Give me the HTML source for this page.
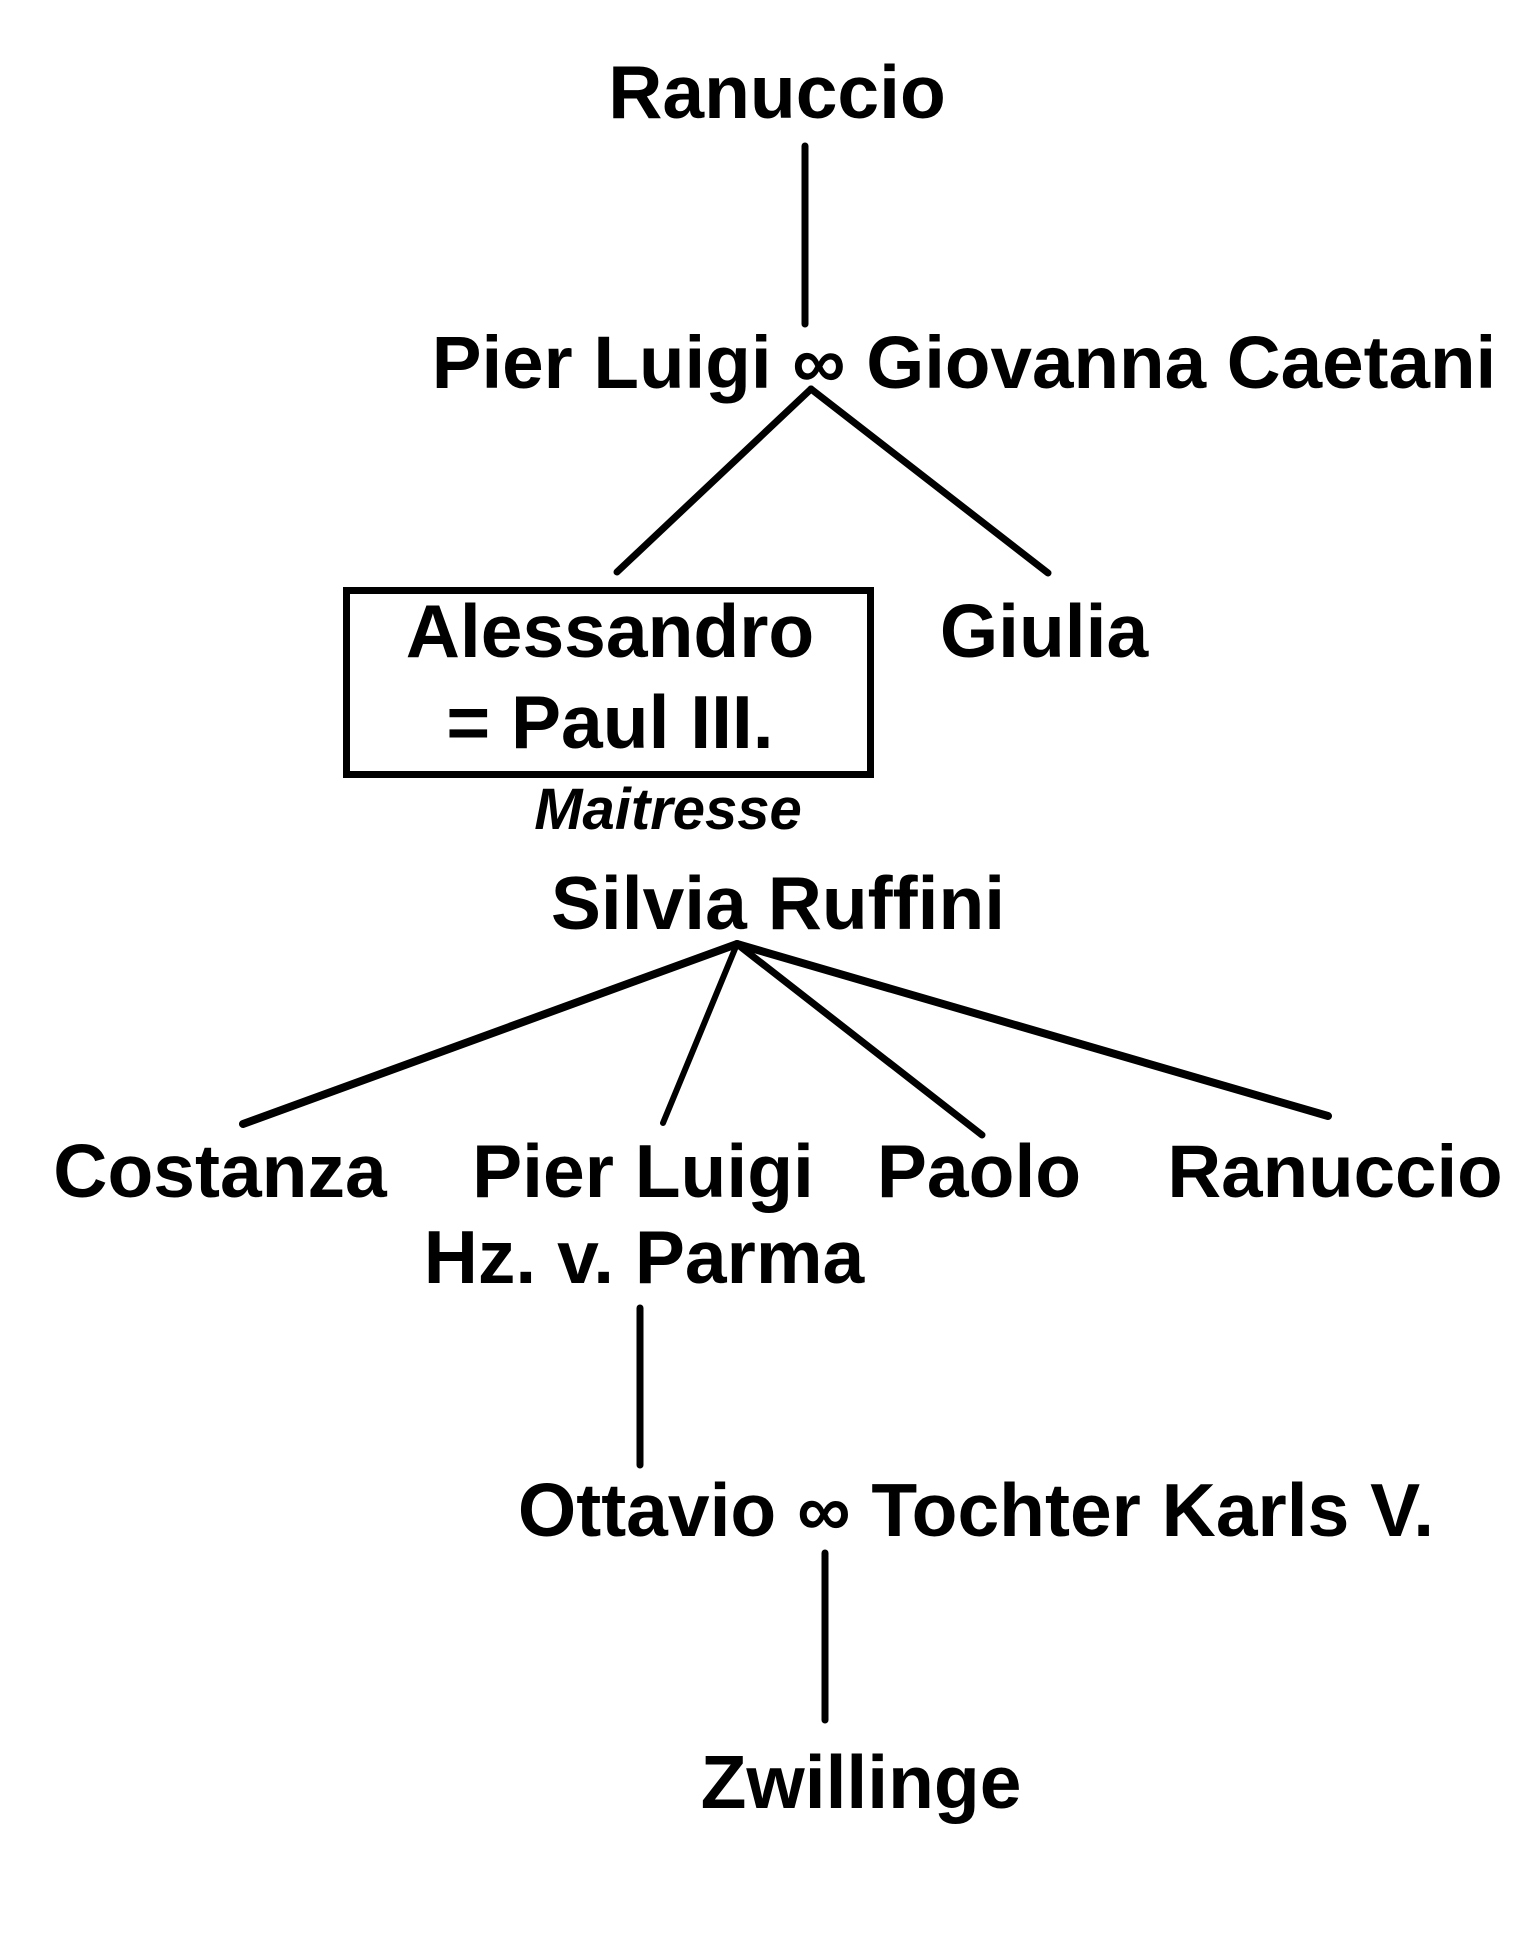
<!DOCTYPE html>
<html>
<head>
<meta charset="utf-8">
<style>
html,body{margin:0;padding:0;background:#fff;}
svg{display:block;}
text{font-family:"Liberation Sans",Arial,sans-serif;font-weight:bold;fill:#000;font-variant-ligatures:none;}
</style>
</head>
<body>
<svg width="1533" height="1937" viewBox="0 0 1533 1937" xmlns="http://www.w3.org/2000/svg">
<rect width="1533" height="1937" fill="#fff"/>
<g stroke="#000" stroke-linecap="round" fill="none">
  <line x1="805" y1="146" x2="805" y2="324" stroke-width="7"/>
  <line x1="811" y1="389" x2="617" y2="572" stroke-width="7"/>
  <line x1="811" y1="389" x2="1048" y2="573" stroke-width="7"/>
  <rect x="346.5" y="590.5" width="524" height="184" stroke-width="7" stroke-linecap="butt"/>
  <line x1="737" y1="944" x2="243" y2="1124" stroke-width="8"/>
  <line x1="737" y1="944" x2="663" y2="1123" stroke-width="6"/>
  <line x1="737" y1="944" x2="982" y2="1135" stroke-width="7"/>
  <line x1="737" y1="944" x2="1328" y2="1116" stroke-width="8"/>
  <line x1="640" y1="1308" x2="640" y2="1465" stroke-width="7"/>
  <line x1="825" y1="1553" x2="825" y2="1720" stroke-width="7"/>
</g>
<g font-size="75" text-anchor="middle">
  <text x="777" y="118">Ranuccio</text>
  <text x="964" y="388" font-size="74.6">Pier Luigi ∞ Giovanna Caetani</text>
  <text x="610" y="657">Alessandro</text>
  <text x="610" y="748">= Paul III.</text>
  <text x="1044" y="657">Giulia</text>
  <text x="778" y="929">Silvia Ruffini</text>
  <text x="220" y="1197">Costanza</text>
  <text x="643" y="1197">Pier Luigi</text>
  <text x="979" y="1197">Paolo</text>
  <text x="1335" y="1197" font-size="74.5">Ranuccio</text>
  <text x="644" y="1283">Hz. v. Parma</text>
  <text x="976" y="1536">Ottavio ∞ Tochter Karls V.</text>
  <text x="861" y="1808">Zwillinge</text>
</g>
<text x="668" y="829" font-size="58" font-style="italic" text-anchor="middle">Maitresse</text>
</svg>
</body>
</html>
